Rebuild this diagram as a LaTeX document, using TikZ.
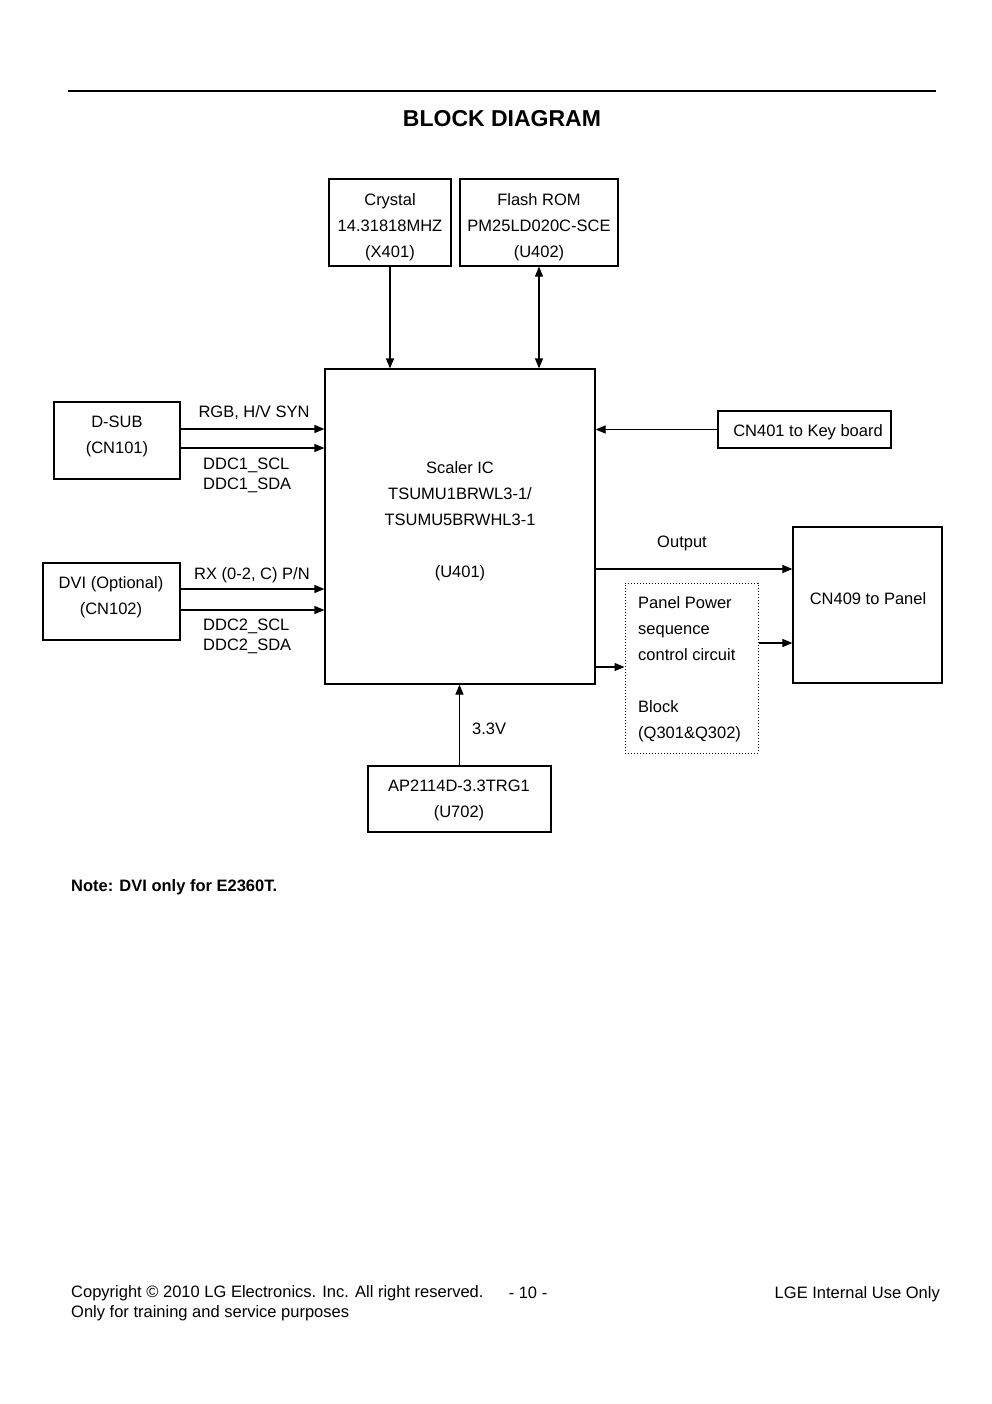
\documentclass[tikz,border=0pt]{standalone}
\usepackage{fontspec}
\setmainfont{Liberation Sans}
\usetikzlibrary{arrows.meta}
\begin{document}
\begin{tikzpicture}[x=1pt,y=-1pt,
  box/.style={draw, line width=1.2pt, inner sep=0pt, rectangle},
  dotbox/.style={draw, dotted, line width=1pt, inner sep=0pt, rectangle},
  txt/.style={font=\fontsize{16.5}{26}\selectfont, inner sep=0pt, anchor=base, align=center},
  ltxt/.style={font=\fontsize{16.5}{26}\selectfont, inner sep=0pt, anchor=base west, align=left},
  sig/.style={font=\fontsize{16.5}{20}\selectfont, inner sep=0pt, anchor=base west, align=left},
  arr/.style={line width=1.2pt, -{Triangle[length=10pt,width=8pt]}},
  darr/.style={line width=1.2pt, {Triangle[length=10pt,width=8pt]}-{Triangle[length=10pt,width=8pt]}}]
\path[use as bounding box] (0,0) rectangle (992,1404);

% header
\draw[line width=1.2pt] (68,91) coordinate (rl) -- (936,91) coordinate (rr);
\node[font=\fontsize{23}{26}\selectfont\bfseries, inner sep=0pt, anchor=base] (title) at (502,127) {BLOCK DIAGRAM};

% boxes
\node[box, minimum width=122, minimum height=87] (crystal) at (390,222.5) {};
\node[box, minimum width=158, minimum height=87] (flash) at (539,222.5) {};
\node[box, minimum width=270, minimum height=315] (scaler) at (460,526.5) {};
\node[box, minimum width=126, minimum height=77] (dsub) at (117,440.5) {};
\node[box, minimum width=137, minimum height=77] (dvi) at (111.5,601.5) {};
\node[box, minimum width=173, minimum height=37] (cn401) at (804.5,429.5) {};
\node[box, minimum width=149, minimum height=156] (cn409) at (867.5,605) {};
\node[dotbox, minimum width=133, minimum height=170] (pps) at (691.5,668) {};
\node[box, minimum width=183, minimum height=66] (ap) at (459.5,799) {};

% box texts (anchor base = baseline of last line)
\node[txt] (tcrystal) at (390,258) {Crystal\\14.31818MHZ\\(X401)};
\node[txt] (tflash) at (539,258) {Flash ROM\\PM25LD020C-SCE\\(U402)};
\node[txt] (tscaler) at (460,577) {Scaler IC\\TSUMU1BRWL3-1/\\TSUMU5BRWHL3-1\\\\(U401)};
\node[txt] (tdsub) at (117,453) {D-SUB\\(CN101)};
\node[txt] (tdvi) at (111,614) {DVI (Optional)\\(CN102)};
\node[txt] (tcn401) at (808,436) {CN401 to Key board};
\node[txt] (tcn409) at (868,604) {CN409 to Panel};
\node[ltxt] (tpps) at (638,738) {Panel Power\\sequence\\control circuit\\\\Block\\(Q301\&Q302)};
\node[txt] (tap) at (459,817) {AP2114D-3.3TRG1\\(U702)};

% connectors
\draw[arr] (crystal.south) -- (crystal.south |- scaler.north);
\draw[darr] (flash.south) -- (flash.south |- scaler.north);
\draw[arr] (dsub.east |- 0,429) -- (scaler.west |- 0,429);
\draw[arr] (dsub.east |- 0,448) -- (scaler.west |- 0,448);
\draw[arr] (dvi.east |- 0,589) -- (scaler.west |- 0,589);
\draw[arr] (dvi.east |- 0,610) -- (scaler.west |- 0,610);
\draw[arr] (cn401.west) -- (cn401.west -| scaler.east);
\draw[arr] (scaler.east |- 0,569) -- (cn409.west |- 0,569);
\draw[arr] (scaler.east |- 0,667) -- (pps.west |- 0,667);
\draw[arr] (pps.east |- 0,643) -- (cn409.west |- 0,643);
\draw[arr] (ap.north) -- (ap.north |- scaler.south);

% signal labels
\node[txt] (lrgb) at (254,417) {RGB, H/V SYN};
\node[sig] (lddc1) at (203,489) {DDC1\_SCL\\DDC1\_SDA};
\node[txt] (lrx) at (252,579) {RX (0-2, C) P/N};
\node[sig] (lddc2) at (203,650) {DDC2\_SCL\\DDC2\_SDA};
\node[txt] (lout) at (682,547) {Output};
\node[ltxt] (l33) at (472,734) {3.3V};

% note and footer
\node[font=\fontsize{16.5}{20}\selectfont\bfseries, inner sep=0pt, anchor=base west] (note) at (71,891) {Note: DVI only for E2360T.};
\node[sig] (copy) at (71,1317) {Copyright © 2010 LG Electronics. Inc. All right reserved.\\Only for training and service purposes};
\node[txt] (page) at (528,1298) {- 10 -};
\node[font=\fontsize{16.5}{20}\selectfont, inner sep=0pt, anchor=base east] (lge) at (940,1298) {LGE Internal Use Only};
\end{tikzpicture}
\end{document}
